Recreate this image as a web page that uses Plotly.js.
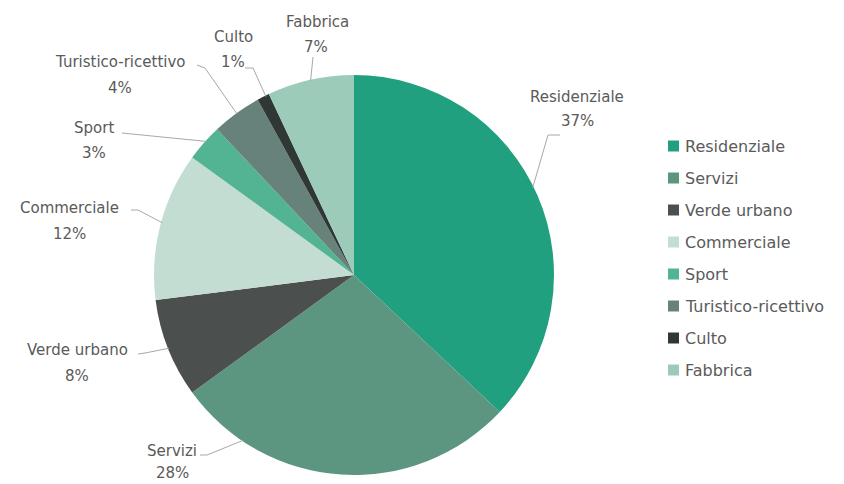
<!DOCTYPE html>
<html>
<head>
<meta charset="utf-8">
<script src="https://cdn.plot.ly/plotly-3.0.1.min.js"></script>
<style>html,body{margin:0;padding:0;background:#fff}#chart{width:844px;height:484px}</style>
</head>
<body>
<div id="chart"></div>
<script>
// ---- data ----
const labels = ["Residenziale","Servizi","Verde urbano","Commerciale","Sport","Turistico-ricettivo","Culto","Fabbrica"];
const values = [37,28,8,12,3,4,1,7];
const colors = ["#21a07f","#5c9580","#4b504e","#c3ddd2","#52b493","#66827a","#2f3835","#9ccbb9"];

// ---- layout constants (pixels) ----
const W = 844, H = 484;
const cx = 354, cy = 275, R = 200;
const textColor = "#5a5a5a";
const fontFam = "DejaVu Sans, Open Sans, sans-serif";

// label placement (pixels): name centre, percent centre, leader start, elbow, where on slice the leader touches
const nameXY  = [[577,97],[172,451],[77,350],[69,208],[94,128],[120,62],[233,37],[317,22]];
const pctXY   = [[577,121],[172,473],[77,376],[69,234],[94,153],[120,88],[233,62],[316,47]];
const lineA   = [[560,135],[200,455],[138,354],[131,210],[122,133],[197,65],[245,68],[313,57]];
const lineB   = [[548,135],[207,455],[145,353],[138,210],[122,133],[205,68],[253,68],[313,57]];
const tipFrac = [0.48,0.8,0.5,0.52,0.57,0.5,0.7,0.5];

const px = (x)=> x / W;
const py = (y)=> (H - y) / H;

const total = values.reduce((a,b)=>a+b,0);
const annotations = [];
const shapes = [];
let cum = 0;
values.forEach((v,i)=>{
  const ang = (cum + tipFrac[i]*v) / total * 2*Math.PI;
  cum += v;
  const tx = cx + (R-1)*Math.sin(ang);
  const ty = cy - (R-1)*Math.cos(ang);
  shapes.push({type:"path", xref:"paper", yref:"paper",
    path:`M ${px(lineA[i][0])},${py(lineA[i][1])} L ${px(lineB[i][0])},${py(lineB[i][1])} L ${px(tx)},${py(ty)}`,
    line:{color:"#a8a8a8", width:1}});
  annotations.push({xref:"paper", yref:"paper", x:px(nameXY[i][0]), y:py(nameXY[i][1]),
    text:labels[i], showarrow:false, xanchor:"center", yanchor:"middle",
    font:{family:fontFam, size:15, color:textColor}});
  annotations.push({xref:"paper", yref:"paper", x:px(pctXY[i][0]), y:py(pctXY[i][1]),
    text:Math.round(v/total*100)+"%", showarrow:false, xanchor:"center", yanchor:"middle",
    font:{family:fontFam, size:15, color:textColor}});
});

// custom legend
labels.forEach((l,i)=>{
  const yc = 146 + 32*i;
  shapes.push({type:"rect", xref:"paper", yref:"paper",
    x0:px(668), x1:px(679), y0:py(yc+5.5), y1:py(yc-5.5),
    fillcolor:colors[i], line:{width:0}});
  annotations.push({xref:"paper", yref:"paper", x:px(683), y:py(yc),
    text:l, showarrow:false, xanchor:"left", yanchor:"middle",
    font:{family:fontFam, size:16, color:textColor}});
});

const trace = {
  type:"pie", labels:labels, values:values, sort:false, direction:"clockwise", rotation:0,
  marker:{colors:colors, line:{width:0}},
  textinfo:"none", hoverinfo:"label+percent", showlegend:false,
  domain:{x:[154/W, 554/W], y:[9/H, 409/H]}
};

const layout = {
  width:W, height:H, margin:{l:0,r:0,t:0,b:0},
  paper_bgcolor:"#ffffff", plot_bgcolor:"#ffffff",
  showlegend:false, annotations:annotations, shapes:shapes
};

Plotly.newPlot("chart",[trace],layout,{displayModeBar:false, staticPlot:true});
</script>
</body>
</html>
